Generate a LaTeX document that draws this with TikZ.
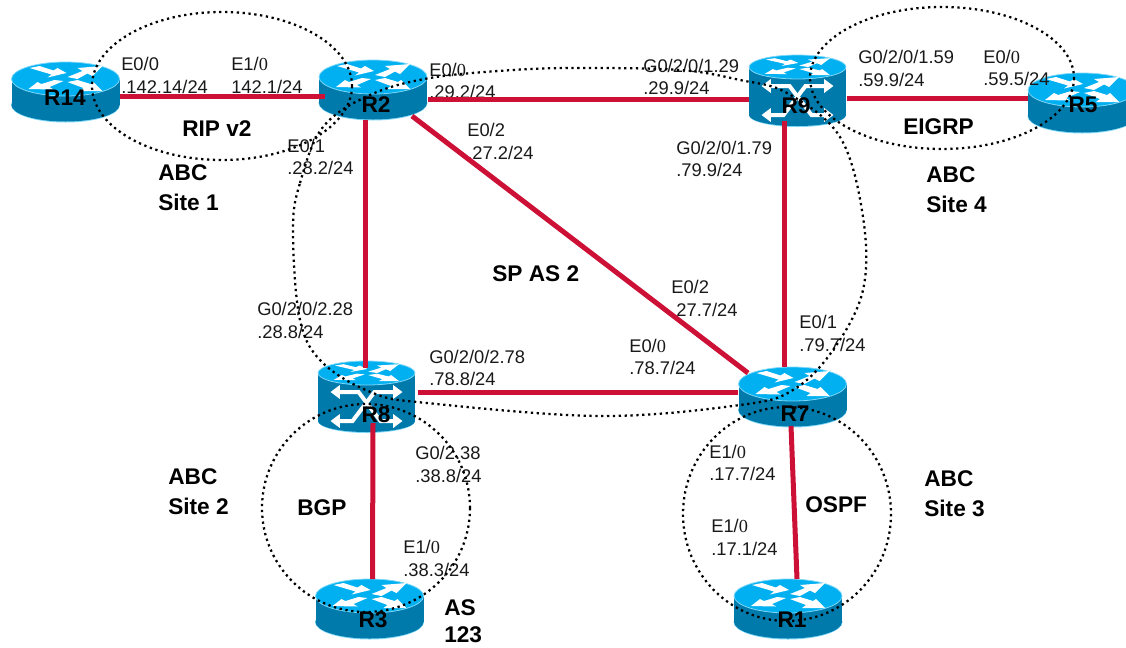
\documentclass[tikz,border=0pt]{standalone}
\usepackage{fontspec}
\setmainfont{Liberation Sans}
\newfontfamily\serifzero{Liberation Serif}
\usetikzlibrary{calc,arrows.meta}
\definecolor{linkred}{HTML}{CC1036}
\definecolor{cisside}{HTML}{0079AB}
\definecolor{cistop}{HTML}{00B0F0}
\definecolor{cisrim}{HTML}{7FD8F8}
\newcommand{\sz}{{\serifzero 0}}
% top-face arrows, local coordinates for rx=54, ry=17
\newcommand{\toparrows}{%
  \fill[white] (-36,-11) -- (-26,-13) -- (-12,-8.5) -- (-8,-11) -- (1,-6) -- (-18,-1.5) -- (-14,-4.5) -- cycle;
  \fill[white] (2,-2) -- (17,-8) -- (12,-11) -- (37,-13) -- (27,-3) -- (22,-5.5) -- (12,0) -- cycle;
  \fill[white] (-37,10) -- (-28,3) -- (-24,5) -- (-11,1) -- (-2,2) -- (-16,8) -- (-12,10.5) -- cycle;
  \fill[white] (2,3) -- (12,1) -- (25,5) -- (28,3) -- (37,12) -- (14,12) -- (18,9) -- cycle;
}
\newcommand{\plainrouter}[2]{%
  \begin{scope}[shift={(#1,#2)}]
    \fill[cisrim] (0,26) ellipse [x radius=54.5,y radius=17.5];
    \fill[cisside] (-54,0) rectangle (54,26);
    \fill[cisside] (0,26) ellipse [x radius=54,y radius=16.5];
    \fill[cistop,draw=cisrim,line width=.6pt] (0,0) ellipse [x radius=54,y radius=17];
    \toparrows
  \end{scope}}
\newcommand{\switchrouter}[2]{%
  \begin{scope}[shift={(#1,#2)}]
    \fill[cisrim] (0,48) ellipse [x radius=48.5,y radius=12];
    \fill[cisside] (-48.5,0) rectangle (48.5,48);
    \fill[cisside] (0,48) ellipse [x radius=48.5,y radius=11];
    \fill[cistop,draw=cisrim,line width=.6pt] (0,0) ellipse [x radius=48.5,y radius=12];
    \begin{scope}[xscale=.88,yscale=.68]\toparrows\end{scope}
    \draw[white,line width=3pt,{Triangle[width=10pt,length=7pt]}-{Triangle[width=10pt,length=7pt]}]
      (-36,19) -- (-20,19) -- (-8,19) -- (14,48) -- (36,48);
    \draw[white,line width=3pt,{Triangle[width=10pt,length=7pt]}-{Triangle[width=10pt,length=7pt]}]
      (36,19) -- (8,19) -- (-14,48) -- (-36,48);
  \end{scope}}
\tikzset{
  routerbox/.style 2 args={rectangle,inner sep=0,outer sep=0,minimum width=#1*0.75pt,minimum height=#2*0.75pt},
  link/.style={draw=linkred,line width=3.75pt},
  zone/.style={draw=black,line width=1.7pt,dash pattern=on 1.7pt off 2.7pt},
  iface/.style={anchor=west,align=left,inner sep=0,font=\fontsize{13.75}{17}\selectfont,text=black!90},
  bigtext/.style={anchor=west,align=left,inner sep=0,font=\fontsize{17}{22.5}\selectfont\bfseries},
  rname/.style={inner sep=0,font=\fontsize{17}{20}\selectfont\bfseries},
}
\begin{document}
\begin{tikzpicture}[x=0.75pt,y=-0.75pt]
\useasboundingbox (0,0) rectangle (1126,647);
\clip (0,0) rectangle (1126,647);
% router footprints
\node[routerbox={109}{58}] (R14) at (65.5,91) {};
\node[routerbox={108}{60}] (R2) at (373,90) {};
\node[routerbox={97}{71}] (R9) at (797.5,91) {};
\node[routerbox={108}{59}] (R5) at (1082,102) {};
\node[routerbox={97}{71}] (R8) at (366.5,396.5) {};
\node[routerbox={109}{59}] (R7) at (792.5,396.5) {};
\node[routerbox={110}{58}] (R3) at (369.5,608) {};
\node[routerbox={110}{58}] (R1) at (788,608) {};
% router bodies
\plainrouter{65.5}{79}
\plainrouter{373}{77}
\switchrouter{797.5}{67}
\plainrouter{1082}{90}
\switchrouter{366.5}{373}
\plainrouter{792.5}{384}
\plainrouter{369.5}{596}
\plainrouter{788}{596}
% interface labels
\node[iface] (i1) at (121,75.5) {E0/0\\.142.14/24};
\node[iface] (i2) at (231,75.5) {E1/\sz\\142.1/24};
\node[iface] (i3) at (429,81) {E0/\sz\\.29.2/24};
\node[iface] (i4) at (467,141.5) {E0/2\\.27.2/24};
\node[iface] (i5) at (287,157) {E0/1\\.28.2/24};
\node[iface] (i6) at (643,77) {G0/2/0/1.29\\.29.9/24};
\node[iface] (i7) at (858,68.5) {G0/2/0/1.59\\.59.9/24};
\node[iface] (i8) at (983,68) {E0/\sz\\.59.5/24};
\node[iface] (i9) at (676,159) {G0/2/0/1.79\\.79.9/24};
\node[iface] (i10) at (671,298.5) {E0/2\\.27.7/24};
\node[iface] (i11) at (799,333.5) {E0/1\\.79.7/24};
\node[iface] (i12) at (629,357) {E0/\sz\\.78.7/24};
\node[iface] (i13) at (429,368) {G0/2/0/2.78\\.78.8/24};
\node[iface] (i14) at (257,320.5) {G0/2/0/2.28\\.28.8/24};
\node[iface] (i15) at (415,464.5) {G0/2.38\\.38.8/24};
\node[iface] (i16) at (403,558.5) {E1/\sz\\.38.3/24};
\node[iface] (i17) at (709,463) {E1/\sz\\.17.7/24};
\node[iface] (i18) at (711,537.5) {E1/\sz\\.17.1/24};
% links
\draw[link] ($(R14.east)+(0,5)$) -- ($(R2.west)+(6,6)$);
\draw[link] ($(R2.east)+(1,9)$) -- ($(R9.west)+(0,8)$);
\draw[link] ($(R9.east)+(1,7)$) -- ($(R5.west)+(0,-4)$);
\draw[link] ($(R2.south)+(-8,0)$) -- ($(R8.north)+(-1.5,7)$);
\draw[link] ($(R2.south east)+(-15,-4)$) -- ($(R7.north west)+(10,6)$);
\draw[link] ($(R9.south)+(-13.5,-5.5)$) -- ($(R7.north)+(-8.5,0)$);
\draw[link] ($(R8.east)+(3,-4.5)$) -- ($(R7.west)+(0,-4.5)$);
\draw[link] ($(R8.south)+(6.5,-9)$) -- ($(R3.north)+(3,0)$);
\draw[link] ($(R7.south)+(-1.5,0)$) -- ($(R1.north)+(9,0)$);
% dotted zones
\draw[zone] (222,86) ellipse [x radius=130,y radius=74];
\draw[zone] (942,78) ellipse [x radius=132,y radius=71];
\draw[zone] (366,508) ellipse [x radius=104,y radius=104];
\draw[zone] (787,514) ellipse [x radius=104,y radius=107];
\draw[zone] plot[smooth cycle,tension=.6] coordinates {
  (293,230) (300,183) (323,127) (370,95) (430,78) (513,70) (580,68) (680,70)
  (740,80) (787,93) (840,137) (863,217) (863,290) (833,350) (793,390) (740,405)
  (600,416) (427,403) (373,393) (323,363) (300,320)};
% router names
\node[rname] (nR14) at (65,98) {R14};
\node[rname] (nR2) at (376,105) {R2};
\node[rname] (nR9) at (796,106) {R9};
\node[rname] (nR5) at (1083,105) {R5};
\node[rname] (nR8) at (376,415) {R8};
\node[rname] (nR7) at (795,414) {R7};
\node[rname] (nR3) at (373,620) {R3};
\node[rname] (nR1) at (792,620) {R1};
% zone labels
\node[bigtext] (z1) at (182,129) {RIP v2};
\node[bigtext] (z2) at (158,188) {ABC\\Site 1};
\node[bigtext] (z3) at (492,274) {SP AS 2};
\node[bigtext] (z4) at (168,492) {ABC\\Site 2};
\node[bigtext] (z5) at (297,508) {BGP};
\node[bigtext,font=\fontsize{17}{20.5}\selectfont\bfseries] (z6) at (444,621) {AS\\123};
\node[bigtext] (z7) at (805,505) {OSPF};
\node[bigtext] (z8) at (924,493.5) {ABC\\Site 3};
\node[bigtext] (z9) at (926,190) {ABC\\Site 4};
\node[bigtext] (z10) at (903,127) {EIGRP};
\end{tikzpicture}
\end{document}
